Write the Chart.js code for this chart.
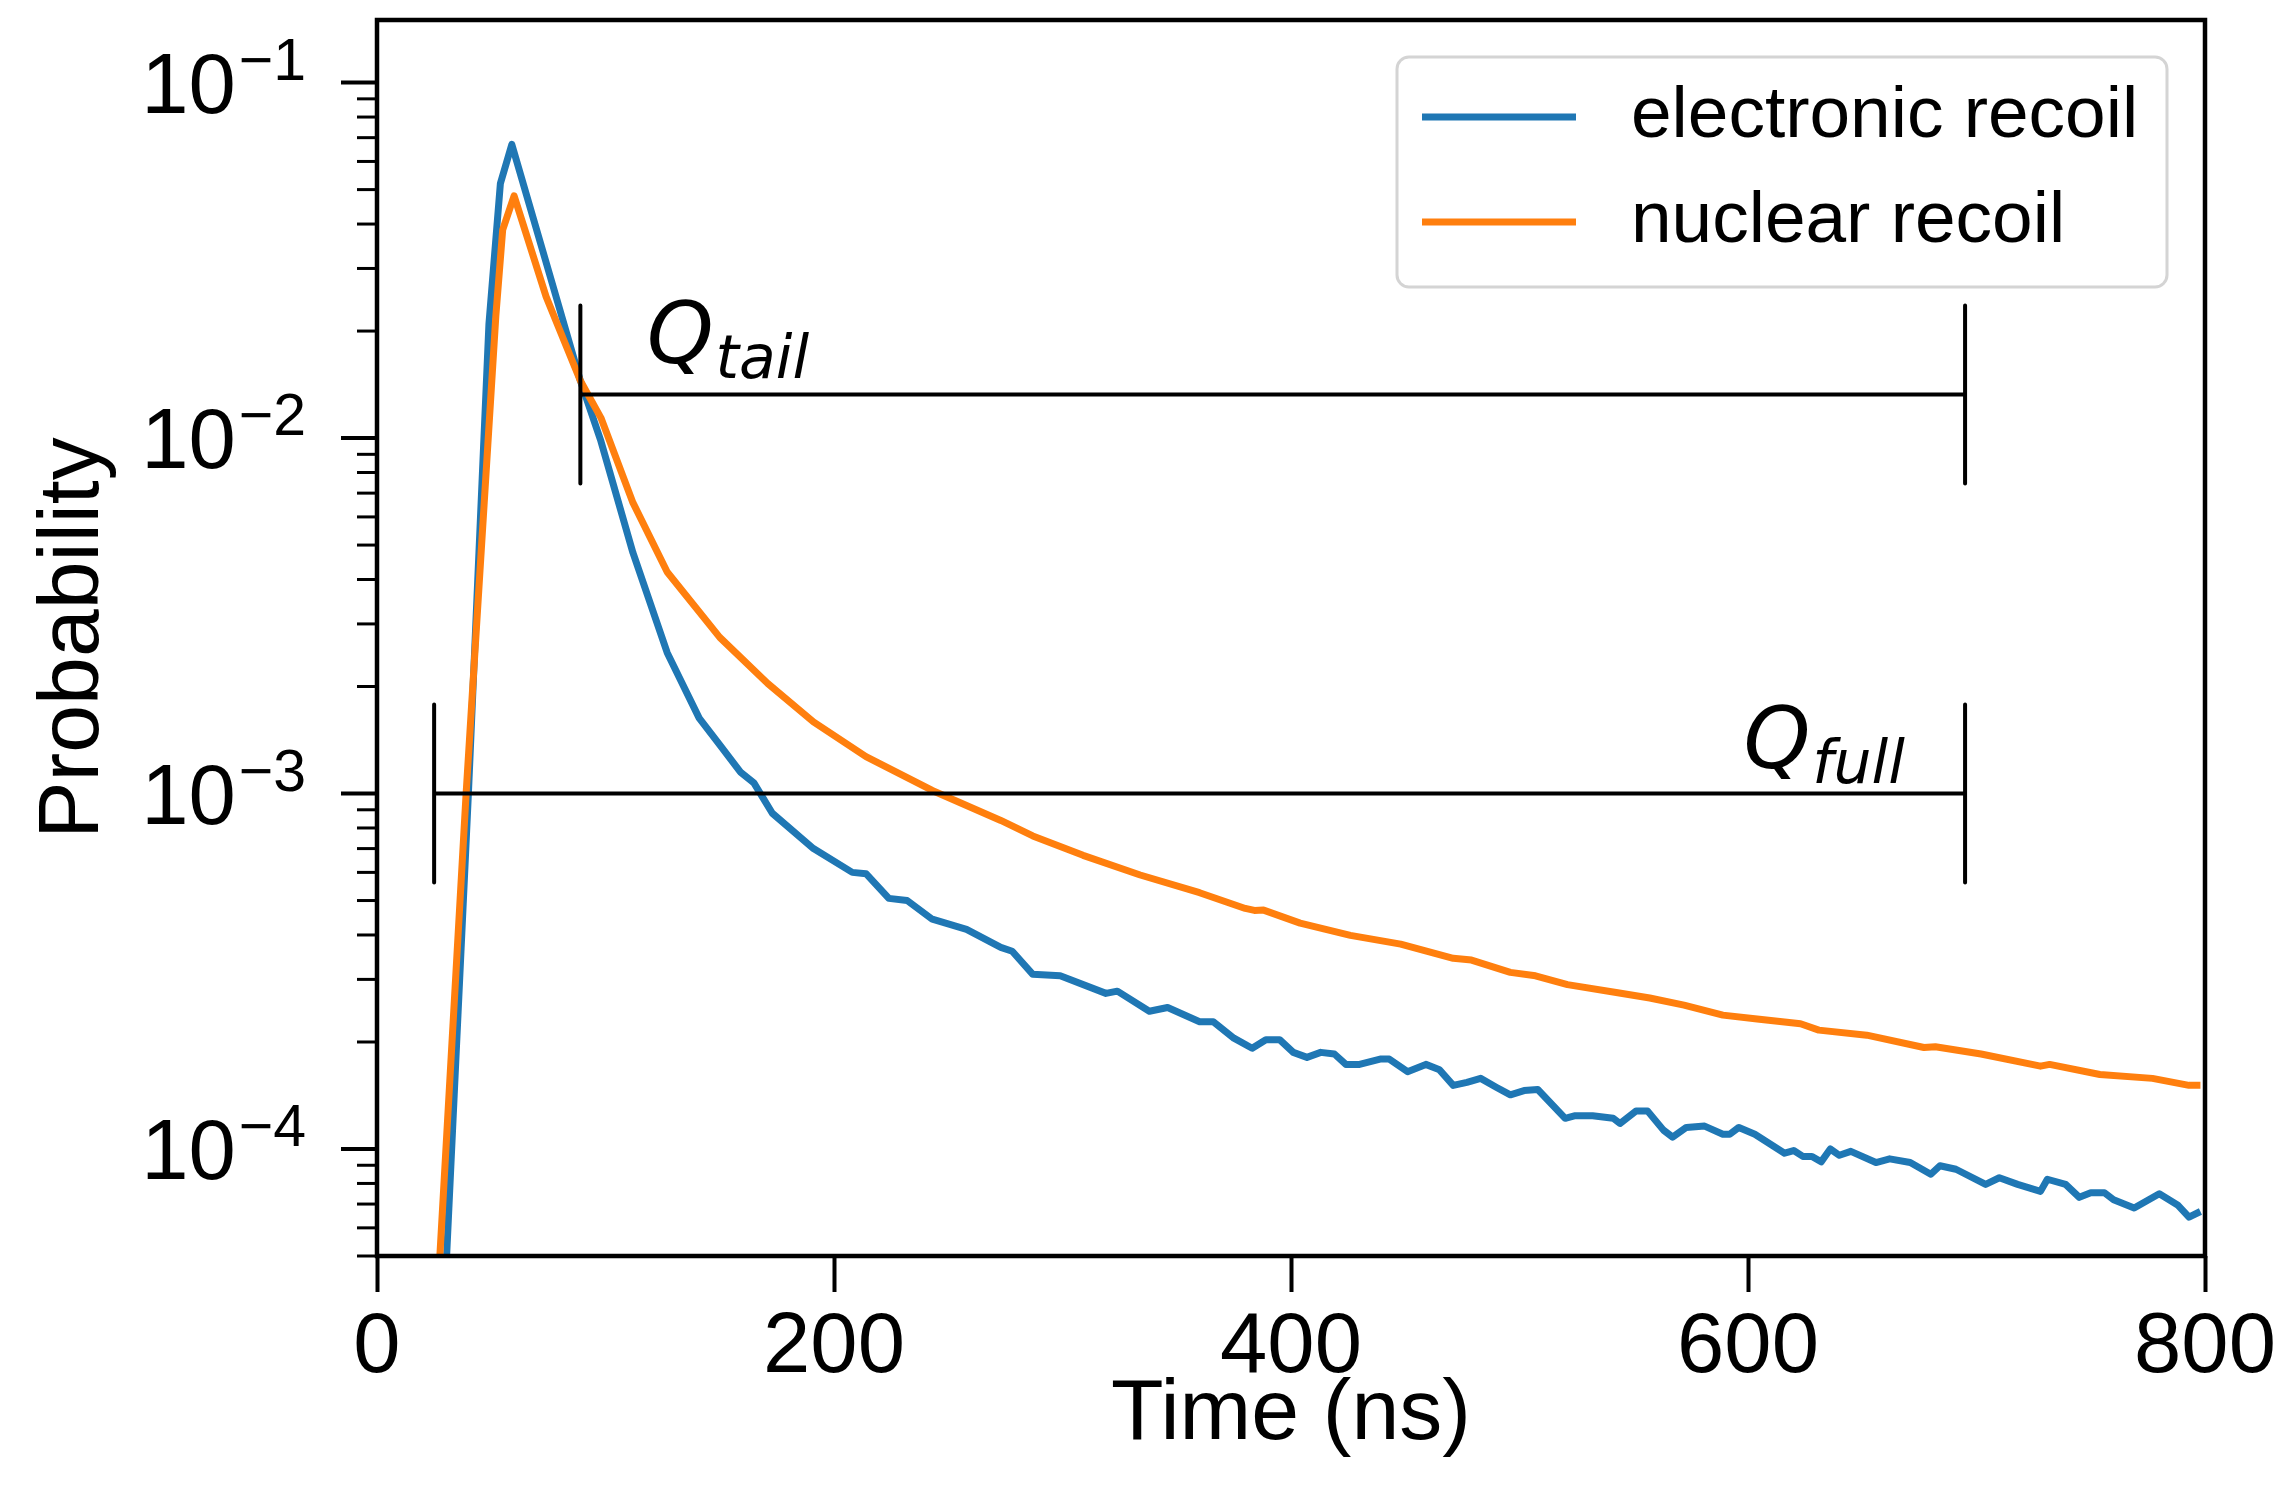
<!DOCTYPE html>
<html>
<head>
<meta charset="utf-8">
<script src="https://cdn.jsdelivr.net/npm/chart.js@4"></script>
<style>
  html, body { margin: 0; padding: 0; background: #fff; }
  canvas { display: block; }
</style>
</head>
<body>
<canvas id="pulse" width="2289" height="1501"></canvas>
<script>
// electronic recoil pulse shape (time in ns, probability)
const erTime = [28, 40, 49, 54, 59, 77, 89, 98, 112, 127, 141, 150, 159, 165, 173, 191, 208, 214, 224, 232,
    243, 258, 273, 278, 287, 299, 319, 324, 338, 346, 360, 366, 375, 383, 389, 395, 401, 407, 413, 419,
    424, 430, 439, 443, 451, 459, 465, 471, 477, 483, 490, 496, 502, 508, 520, 524, 532, 541, 544, 551,
    556, 563, 567, 573, 581, 589, 592, 596, 603, 616, 620, 624, 628, 632, 636, 640, 645, 656, 662, 671,
    680, 684, 691, 704, 710, 718, 728, 731, 739, 745, 750, 756, 760, 769, 780, 788, 793, 798]
const erProb = [2.3e-5, 1.0e-3, 0.021, 0.052, 0.067, 0.0268, 0.0145, 0.0098, 0.00476, 0.00249, 0.00163, 0.00137, 0.00115, 0.00107, 0.00088, 0.0007, 0.0006, 0.000595, 0.000507, 0.0005,
    0.000443, 0.000415, 0.000369, 0.00036, 0.00031, 0.000307, 0.000274, 0.000278, 0.000244, 0.00025, 0.000228, 0.000228, 0.000205, 0.000192, 0.000203, 0.000203, 0.000187, 0.000181, 0.000187, 0.000185,
    0.000173, 0.000173, 0.000179, 0.000179, 0.000165, 0.000173, 0.000167, 0.000151, 0.000154, 0.000158, 0.000149, 0.000142, 0.000146, 0.000147, 0.000122, 0.000124, 0.000124, 0.000122, 0.000118, 0.000128,
    0.000128, 0.000113, 0.000108, 0.000115, 0.000116, 0.00011, 0.00011, 0.000115, 0.00011, 9.73e-5, 9.9e-5, 9.53e-5, 9.53e-5, 9.2e-5, 1.0e-4, 9.6e-5, 9.85e-5, 9.16e-5, 9.38e-5, 9.16e-5,
    8.49e-5, 8.97e-5, 8.77e-5, 7.95e-5, 8.3e-5, 7.95e-5, 7.6e-5, 8.22e-5, 7.95e-5, 7.31e-5, 7.53e-5, 7.53e-5, 7.2e-5, 6.82e-5, 7.48e-5, 6.96e-5, 6.43e-5, 6.67e-5]

// nuclear recoil pulse shape
const nrTime = [25, 39, 52, 55, 60, 74, 89, 98, 112, 127, 150, 171, 191, 214, 243, 273, 287, 309, 334, 360,
    380, 384, 388, 404, 426, 448, 471, 479, 496, 507, 521, 543, 557, 572, 589, 604, 623, 631, 652, 677,
    682, 702, 728, 732, 754, 777, 793, 798]
const nrProb = [2.6e-5, 1.0e-3, 0.022, 0.0385, 0.048, 0.025, 0.0145, 0.0114, 0.00658, 0.0042, 0.00275, 0.00204, 0.00159, 0.00127, 0.00102, 0.00084, 0.00076, 0.00067, 0.00059, 0.000526,
    0.000475, 0.000469, 0.00047, 0.000432, 0.000399, 0.000377, 0.000344, 0.00034, 0.000314, 0.000307, 0.00029, 0.000275, 0.000266, 0.000254, 0.000238, 0.000232, 0.000225, 0.000216, 0.000209, 0.000193,
    0.000194, 0.000185, 0.000171, 0.000173, 0.000162, 0.000158, 0.000151, 0.000151]

// integration windows: [start, end] in ns, level, cap extent
const qTailSpan = [89, 695]
const qTailLevel = 0.01325
const qTailCap = [0.00745, 0.0236]
const qFullSpan = [25, 695]
const qFullLevel = 0.001
const qFullCap = [0.000562, 0.00178]
const qLabels = ['tail', 'full']
const qLabelPos = [[118, 0.0163], [598, 0.00118]]

const xTicks = [0, 200, 400, 600, 800]
const yExponents = [-4, -3, -2, -1]

const toPoints = (xs, ys) => xs.map((x, i) => ({x: x, y: ys[i]}))

function bracket(span, level, cap) {
    return [
        {x: span[0], y: cap[1]}, {x: span[0], y: cap[0]}, {x: span[0], y: null},
        {x: span[0], y: level}, {x: span[1], y: level}, {x: span[1], y: null},
        {x: span[1], y: cap[1]}, {x: span[1], y: cap[0]}
    ]
}

const sans = '"Liberation Sans", Arial, sans-serif'

const axisDecor = {
    id: 'axisDecor',
    afterDraw(chart) {
        const {ctx, chartArea: a, scales: {x, y}} = chart
        ctx.save()
        ctx.strokeStyle = '#000'
        ctx.fillStyle = '#000'

        // log ticks, major and minor
        for (let d = -5; d <= -1; d++) {
            for (let k = 1; k <= 9; k++) {
                const v = k * Math.pow(10, d)
                if (v < y.min * 0.999 || v > y.max * 1.001) continue
                const py = y.getPixelForValue(v)
                const len = k === 1 ? 36 : 20
                ctx.lineWidth = k === 1 ? 4 : 3
                ctx.beginPath()
                ctx.moveTo(a.left - len, py)
                ctx.lineTo(a.left, py)
                ctx.stroke()
            }
        }

        // 10^n labels
        ctx.textAlign = 'right'
        ctx.textBaseline = 'alphabetic'
        yExponents.forEach(e => {
            const py = y.getPixelForValue(Math.pow(10, e))
            const sup = '\u2212' + Math.abs(e)
            const right = a.left - 71
            ctx.font = '59px ' + sans
            const supW = ctx.measureText(sup).width
            ctx.fillText(sup, right, py - 3)
            ctx.font = '85px ' + sans
            ctx.fillText('10', right - supW - 3, py + 30)
        })

        // Q labels
        ctx.textAlign = 'left'
        qLabels.forEach((sub, i) => {
            const px = x.getPixelForValue(qLabelPos[i][0])
            const py = y.getPixelForValue(qLabelPos[i][1])
            ctx.font = 'italic 85px "DejaVu Sans"'
            ctx.fillText('Q', px, py)
            const w = ctx.measureText('Q').width
            ctx.font = 'italic 60px "DejaVu Sans"'
            ctx.fillText(sub, px + w + 2, py + 15)
        })

        // legend
        const items = chart.data.datasets.filter(ds => ds.inLegend)
        const bx = a.right - 808, by = a.top + 37, bw = 770, bh = 230
        ctx.beginPath()
        ctx.roundRect(bx, by, bw, bh, 12)
        ctx.fillStyle = 'rgba(255,255,255,0.8)'
        ctx.fill()
        ctx.lineWidth = 3
        ctx.strokeStyle = '#d4d4d4'
        ctx.stroke()
        ctx.font = '73px ' + sans
        ctx.textBaseline = 'middle'
        items.forEach((ds, i) => {
            const ly = by + 60 + i * 105
            ctx.strokeStyle = ds.borderColor
            ctx.lineWidth = 7
            ctx.beginPath()
            ctx.moveTo(bx + 25, ly)
            ctx.lineTo(bx + 179, ly)
            ctx.stroke()
            ctx.fillStyle = '#000'
            ctx.fillText(ds.label, bx + 234, ly)
        })

        // frame
        ctx.strokeStyle = '#000'
        ctx.lineWidth = 4.5
        ctx.strokeRect(a.left, a.top, a.right - a.left, a.bottom - a.top)
        ctx.restore()
    }
}

const data = {
    datasets: [
        {
            label: 'Q tail',
            data: bracket(qTailSpan, qTailLevel, qTailCap),
            borderColor: '#000',
            borderWidth: 4,
            order: 0
        },
        {
            label: 'Q full',
            data: bracket(qFullSpan, qFullLevel, qFullCap),
            borderColor: '#000',
            borderWidth: 4,
            order: 0
        },
        {
            label: 'electronic recoil',
            data: toPoints(erTime, erProb),
            borderColor: '#1f77b4',
            borderWidth: 7,
            inLegend: true,
            order: 2
        },
        {
            label: 'nuclear recoil',
            data: toPoints(nrTime, nrProb),
            borderColor: '#ff7f0e',
            borderWidth: 7,
            inLegend: true,
            order: 1
        }
    ]
}

const config = {
    type: 'line',
    data: data,
    options: {
        responsive: false,
        animation: false,
        devicePixelRatio: 1,
        layout: {
            padding: {left: 0, top: 20, right: 84, bottom: 0}
        },
        datasets: {
            line: {
                pointRadius: 0,
                tension: 0,
                spanGaps: false,
                borderJoinStyle: 'round',
                clip: 0
            }
        },
        plugins: {
            legend: {display: false},
            tooltip: {enabled: false}
        },
        scales: {
            x: {
                type: 'linear',
                min: 0,
                max: 800,
                afterFit: s => { s.height = 245 },
                afterBuildTicks: s => { s.ticks = xTicks.map(v => ({value: v})) },
                grid: {
                    drawOnChartArea: false,
                    drawTicks: true,
                    tickLength: 36,
                    tickWidth: 4,
                    tickColor: '#000'
                },
                border: {display: false},
                ticks: {
                    color: '#000',
                    padding: 6,
                    maxRotation: 0,
                    font: {family: sans, size: 85}
                },
                title: {
                    display: true,
                    text: 'Time (ns)',
                    color: '#000',
                    padding: {top: 0, bottom: 34},
                    font: {family: sans, size: 86}
                }
            },
            y: {
                type: 'logarithmic',
                min: 5e-5,
                max: 0.15,
                afterFit: s => { s.width = 377 },
                grid: {display: false},
                border: {display: false},
                ticks: {display: false},
                title: {
                    display: true,
                    text: 'Probability',
                    color: '#000',
                    padding: {top: 23, bottom: 0},
                    font: {family: sans, size: 86}
                }
            }
        }
    },
    plugins: [axisDecor]
}

const pulseChart = new Chart(document.getElementById('pulse'), config)
</script>
</body>
</html>
